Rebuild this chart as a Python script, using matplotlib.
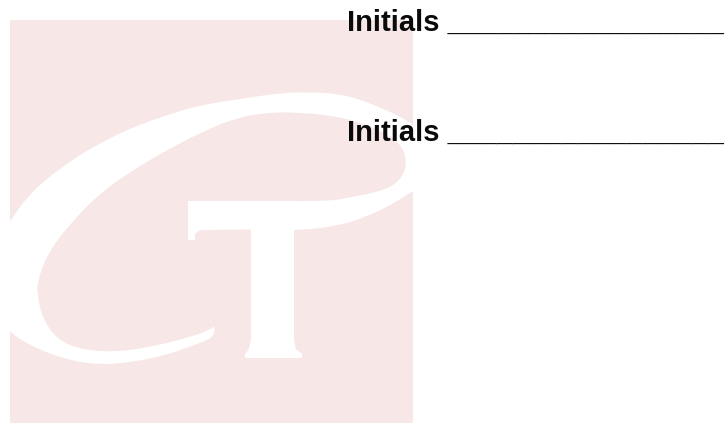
import numpy as np
import matplotlib.pyplot as plt
from matplotlib.path import Path
from matplotlib.patches import PathPatch, Rectangle, Polygon

W, H = 728, 423
pink = "#f7e7e7"

# pink square behind the logo (pixels)
square = (10, 20, 403, 403)

# "C" stroke outline (x, y in pixels, y down)
c_outer = [(215, 325), (214, 337), (200, 343), (167, 355), (133, 362), (100, 365),
           (67, 360), (33, 347), (10, 333), (-2, 315), (-5, 280), (0, 240),
           (10, 220), (33, 190), (67, 163), (100, 143), (133, 127), (167, 115),
           (200, 105), (247, 98), (280, 93), (313, 92), (347, 95), (380, 107),
           (413, 123), (440, 150), (440, 185), (413, 190), (400, 200), (367, 217),
           (333, 227), (300, 230), (280, 230), (280, 201), (330, 201)]
c_inner = [(347, 198), (387, 190), (403, 177), (407, 160), (400, 143), (380, 130),
           (347, 118), (300, 112), (260, 113), (230, 120), (200, 133), (167, 150),
           (133, 170), (100, 193), (67, 227), (47, 255), (38, 280), (37, 293),
           (42, 317), (57, 340), (83, 350), (117, 352), (150, 347), (187, 338),
           (210, 330)]

# "T" bar with left serif, and stem with foot
t_bar = [(188, 201), (300, 201), (296, 229), (200, 230), (195, 234), (195, 240), (188, 240)]
t_stem = [(251, 229), (294, 229), (294, 340), (296, 349), (302, 354), (302, 358),
          (245, 358), (245, 354), (249, 349), (251, 340)]

labels = ["Initials", "Initials"]
label_y = [31, 141]
label_x = 347


def smooth_path(pts):
    pts = np.asarray(pts, float)
    mids = (pts + np.roll(pts, -1, axis=0)) / 2
    verts = [mids[-1]]
    codes = [Path.MOVETO]
    for i in range(len(pts)):
        verts += [pts[i], mids[i]]
        codes += [Path.CURVE3, Path.CURVE3]
    verts.append(mids[-1])
    codes.append(Path.CLOSEPOLY)
    return Path(verts, codes)


fig = plt.figure(figsize=(W / 100, H / 100), dpi=100)
ax = fig.add_axes([0, 0, 1, 1])
ax.set_xlim(0, W)
ax.set_ylim(H, 0)
ax.axis("off")

x0, y0, w, h = square
ax.add_patch(Rectangle((x0, y0), w, h, facecolor=pink, edgecolor="none"))

ax.add_patch(PathPatch(smooth_path(c_outer + c_inner), facecolor="white", edgecolor="none"))
ax.add_patch(Polygon(t_bar, closed=True, facecolor="white", edgecolor="none"))
ax.add_patch(Polygon(t_stem, closed=True, facecolor="white", edgecolor="none"))

for lab, y in zip(labels, label_y):
    ax.text(label_x, y, lab + " " + "_" * 17, fontsize=21, fontweight="bold",
            family="Liberation Sans", color="#0a0a0a", va="baseline", ha="left",
            clip_on=False)

fig.savefig("out.png", dpi=100)
